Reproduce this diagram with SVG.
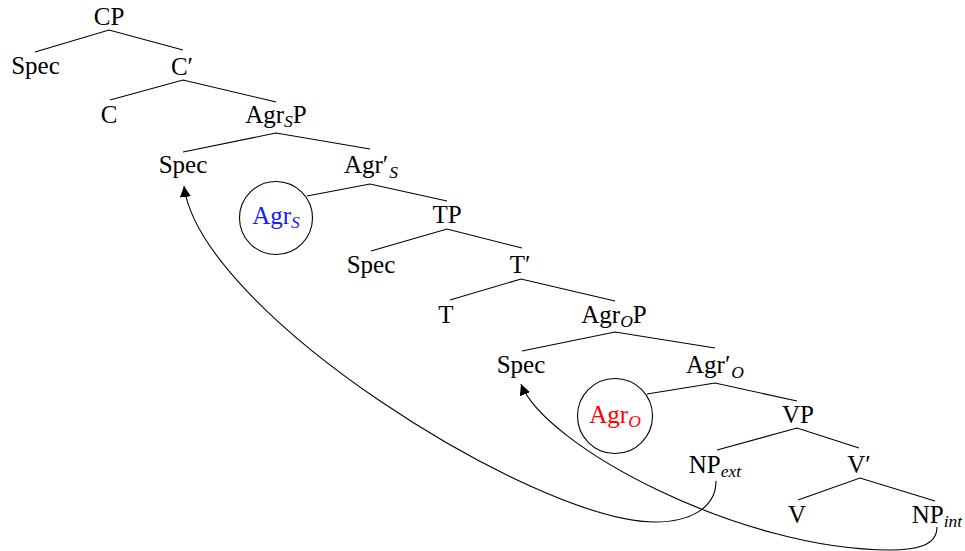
<svg xmlns="http://www.w3.org/2000/svg" width="965" height="551" viewBox="0 0 965 551">
<style>
  .t { font-family: "Liberation Serif", "Times New Roman", serif; font-size: 25px; text-anchor: middle; fill: #000; }
  .sub { font-size: 17.5px; font-style: italic; }
  .e { stroke: #000; stroke-width: 1.1; fill: none; }
  .mv { stroke: #000; stroke-width: 1.1; fill: none; marker-end: url(#arr); }
  .ring { stroke: #000; stroke-width: 1.1; fill: none; }
</style>
<defs>
  <marker id="arr" markerUnits="userSpaceOnUse" markerWidth="11" markerHeight="11" viewBox="0 0 10 10" refX="10" refY="5" orient="auto">
    <path d="M0,0 L10,5 L0,10 z" fill="#000"/>
  </marker>
</defs>
<rect width="965" height="551" fill="#fff"/>

<g id="edges">
  <path class="e" d="M35,52 L109,30 L183,50"/>
  <path class="e" d="M110,100 L183,80 L276,102"/>
  <path class="e" d="M183,152 L276,133 L370,149"/>
  <path class="e" d="M307,196 L370,184 L447,201"/>
  <path class="e" d="M371,251 L447,229 L522,248"/>
  <path class="e" d="M450,300 L521,279 L615,301"/>
  <path class="e" d="M522,351 L615,332 L715,348"/>
  <path class="e" d="M647,394 L715,383 L797,401"/>
  <path class="e" d="M717,450 L797,428 L859,448"/>
  <path class="e" d="M798,500 L860,478 L935,501"/>
</g>

<g id="movement">
  <path class="mv" d="M716,481 C716,508 690,522 655,522 C535,522 200,312 184,186"/>
  <path class="mv" d="M937,527 C937,545 918,550 890,550 C740,550 545,446 521,384"/>
</g>

<g id="n-CP"><text class="t" x="109" y="25">CP</text></g>
<g id="n-SpecC"><text class="t" x="35.5" y="74">Spec</text></g>
<g id="n-Cbar"><text class="t" x="182" y="75">C′</text></g>
<g id="n-C"><text class="t" x="109" y="123">C</text></g>
<g id="n-AgrSP"><text class="t" x="276" y="123">Agr<tspan class="sub" dy="4">S</tspan><tspan dy="-4">P</tspan></text></g>
<g id="n-SpecAgrS"><text class="t" x="183" y="173">Spec</text></g>
<g id="n-AgrSbar"><text class="t" x="371" y="173">Agr′<tspan class="sub" dy="5" dx="1">S</tspan></text></g>
<g id="n-AgrS">
  <circle class="ring" cx="276" cy="218" r="36.5"/>
  <text class="t" x="276" y="224" style="fill:#1a1aff">Agr<tspan class="sub" dy="4">S</tspan></text>
</g>
<g id="n-TP"><text class="t" x="447" y="223">TP</text></g>
<g id="n-SpecT"><text class="t" x="371" y="273">Spec</text></g>
<g id="n-Tbar"><text class="t" x="520" y="273">T′</text></g>
<g id="n-T"><text class="t" x="446" y="323">T</text></g>
<g id="n-AgrOP"><text class="t" x="614" y="323">Agr<tspan class="sub" dy="4">O</tspan><tspan dy="-4">P</tspan></text></g>
<g id="n-SpecAgrO"><text class="t" x="521" y="373">Spec</text></g>
<g id="n-AgrObar"><text class="t" x="715" y="373">Agr′<tspan class="sub" dy="5" dx="1">O</tspan></text></g>
<g id="n-AgrO">
  <circle class="ring" cx="615" cy="416" r="37.5"/>
  <text class="t" x="615" y="423" style="fill:#ff0000">Agr<tspan class="sub" dy="4">O</tspan></text>
</g>
<g id="n-VP"><text class="t" x="798" y="423">VP</text></g>
<g id="n-NPext"><text class="t" x="715" y="473">NP<tspan class="sub" dy="4">ext</tspan></text></g>
<g id="n-Vbar"><text class="t" x="859" y="473">V′</text></g>
<g id="n-V"><text class="t" x="797" y="523">V</text></g>
<g id="n-NPint"><text class="t" x="937" y="523">NP<tspan class="sub" dy="4">int</tspan></text></g>
</svg>
